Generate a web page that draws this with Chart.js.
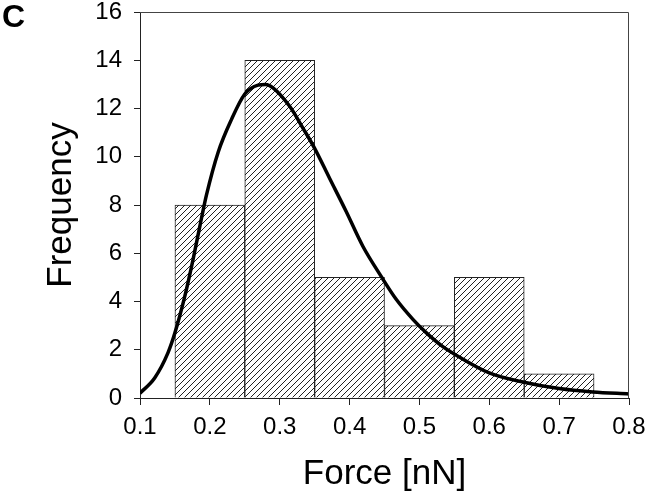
<!DOCTYPE html>
<html>
<head>
<meta charset="utf-8">
<script src="https://cdn.jsdelivr.net/npm/chart.js@4.4.0/dist/chart.umd.min.js"></script>
<style>
  html, body { margin: 0; padding: 0; background: #fff; }
  #wrap { position: relative; width: 647px; height: 495px; }
  #panel { position: absolute; left: 2px; top: 0; font: bold 32px/32px "Liberation Sans", Arial, sans-serif; color: #000; }
</style>
</head>
<body>
<div id="wrap">
  <canvas id="forceChart" width="647" height="495"></canvas>
  <div id="panel">C</div>
</div>

<script>
  // histogram bins (centre of each 0.1 nN bin) and counts
  const binCentres = [0.2, 0.3, 0.4, 0.5, 0.6, 0.7];
  const counts = [8, 14, 5, 3, 5, 1];

  // fitted curve
  const fitForce = [0.100, 0.121, 0.140, 0.150, 0.164, 0.176, 0.188, 0.195, 0.212, 0.231, 0.250, 0.269, 0.280,
                    0.290, 0.314, 0.333, 0.350, 0.371, 0.395, 0.419, 0.445, 0.467, 0.491, 0.510, 0.533, 0.557,
                    0.600, 0.648, 0.700, 0.748, 0.800];
  const fitFreq = [0.20, 0.83, 1.87, 2.7, 4.2, 5.75, 7.45, 8.4, 10.2, 11.55, 12.6, 12.97, 13.0,
                   12.87, 12.1, 11.2, 10.35, 9.13, 7.74, 6.29, 5.05, 4.08, 3.25, 2.70, 2.14, 1.70,
                   1.04, 0.66, 0.39, 0.25, 0.17];

  const FONT = '"Liberation Sans", Arial, sans-serif';

  // diagonal hatch fill for the bars
  function makeHatch() {
    const s = 6;
    const c = document.createElement('canvas');
    c.width = s; c.height = s;
    const g = c.getContext('2d');
    g.fillStyle = '#fff';
    g.fillRect(0, 0, s, s);
    g.strokeStyle = '#222';
    g.lineWidth = 1;
    g.beginPath();
    g.moveTo(0, s); g.lineTo(s, 0);
    g.moveTo(-1, 1); g.lineTo(1, -1);
    g.moveTo(s - 1, s + 1); g.lineTo(s + 1, s - 1);
    g.stroke();
    return g.createPattern(c, 'repeat');
  }

  // box round the plot area (top and right sides)
  const frame = {
    id: 'frame',
    afterDraw(chart) {
      const a = chart.chartArea, ctx = chart.ctx;
      ctx.save();
      ctx.strokeStyle = '#444';
      ctx.lineWidth = 1;
      ctx.beginPath();
      ctx.moveTo(a.left, a.top + 0.5);
      ctx.lineTo(a.right - 0.5, a.top + 0.5);
      ctx.lineTo(a.right - 0.5, a.bottom);
      ctx.stroke();
      ctx.restore();
    }
  };

  const ctx = document.getElementById('forceChart').getContext('2d');

  new Chart(ctx, {
    type: 'bar',
    data: {
      datasets: [
        {
          type: 'line',
          data: fitForce.map((x, i) => ({ x: x, y: fitFreq[i] })),
          borderColor: '#000',
          borderWidth: 3.5,
          pointRadius: 0,
          cubicInterpolationMode: 'monotone',
          fill: false,
          order: 0
        },
        {
          type: 'bar',
          data: binCentres.map((x, i) => ({ x: x, y: counts[i] })),
          backgroundColor: makeHatch(),
          borderColor: '#222',
          borderWidth: 1,
          barPercentage: 1,
          categoryPercentage: 1,
          order: 1
        }
      ]
    },
    options: {
      responsive: false,
      animation: false,
      layout: { padding: { top: 0, right: 0, left: 38, bottom: 0 } },
      plugins: { legend: { display: false }, tooltip: { enabled: false } },
      scales: {
        x: {
          type: 'linear',
          offset: false,
          min: 0.1,
          max: 0.8,
          afterFit(scale) {
            scale.height = 97;
            scale.paddingLeft = 0;
            scale.paddingRight = 18;
          },
          grid: { display: true, offset: false, drawOnChartArea: false, drawTicks: true, tickLength: 7, color: '#222' },
          border: { display: true, color: '#222', width: 1 },
          ticks: {
            stepSize: 0.1,
            padding: 8,
            color: '#000',
            font: { family: FONT, size: 24 },
            callback: v => v.toFixed(1),
            maxRotation: 0
          },
          title: {
            display: true,
            text: 'Force [nN]',
            color: '#000',
            font: { family: FONT, size: 35 },
            padding: { top: 0, bottom: 0 }
          }
        },
        y: {
          min: 0,
          max: 16,
          afterFit(scale) {
            scale.width = 102;
            scale.paddingTop = 12;
            scale.paddingBottom = 0;
          },
          grid: { display: true, drawOnChartArea: false, drawTicks: true, tickLength: 6, color: '#222' },
          border: { display: true, color: '#222', width: 1 },
          ticks: {
            stepSize: 2,
            padding: 12,
            color: '#000',
            font: { family: FONT, size: 24 }
          },
          title: {
            display: true,
            text: 'Frequency',
            color: '#000',
            font: { family: FONT, size: 35 },
            padding: { top: 2, bottom: 0 }
          }
        }
      }
    },
    plugins: [frame]
  });
</script>
</body>
</html>
